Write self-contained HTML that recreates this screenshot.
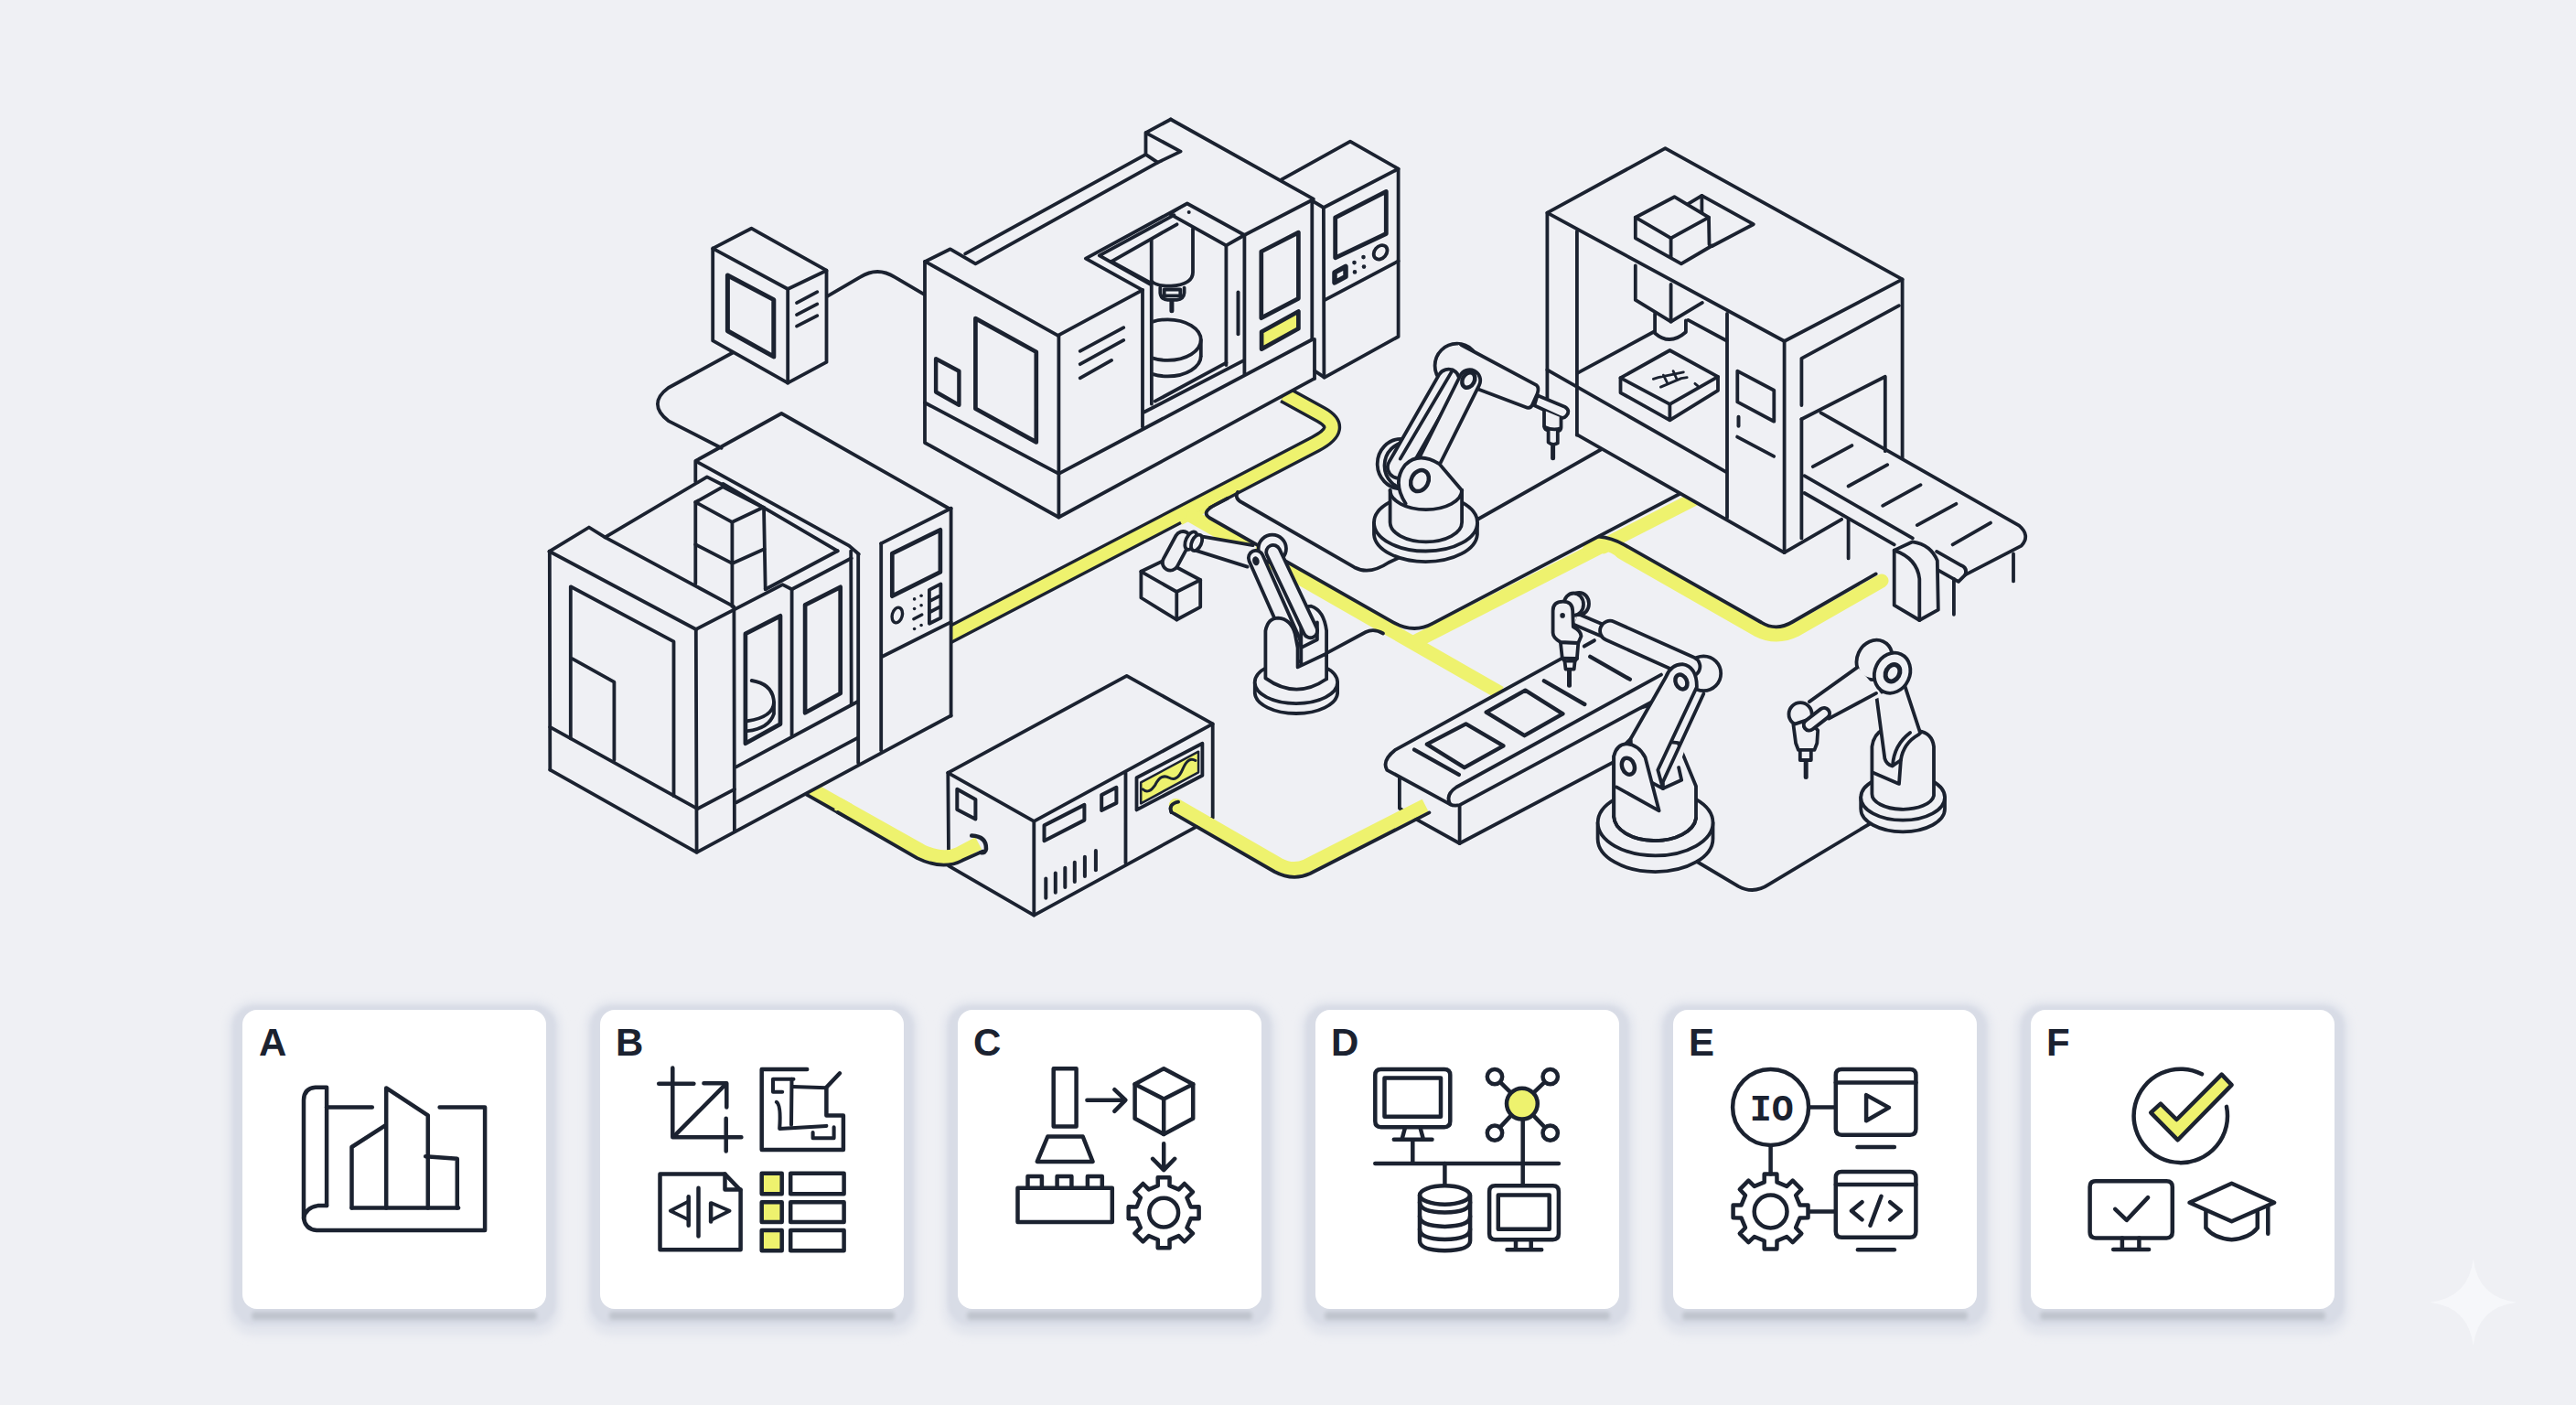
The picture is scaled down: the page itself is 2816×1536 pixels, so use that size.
<!DOCTYPE html>
<html><head><meta charset="utf-8"><title>Factory</title>
<style>
html,body{margin:0;padding:0;background:#eff0f4;}
body{width:2816px;height:1536px;overflow:hidden;font-family:"Liberation Sans",sans-serif;}
svg{display:block;}
svg path,svg circle,svg ellipse,svg rect,svg line{stroke-linecap:round;stroke-linejoin:round;}
.lt{font-family:"Liberation Sans",sans-serif;font-weight:bold;font-size:42px;fill:#1b2230;}
</style></head><body>
<svg width="2816" height="1536" viewBox="0 0 2816 1536">
<defs>
<filter id="sh1" x="-20%" y="-50%" width="140%" height="200%"><feGaussianBlur stdDeviation="2.2"/></filter>
<filter id="sh2" x="-20%" y="-20%" width="140%" height="140%"><feGaussianBlur stdDeviation="5"/></filter>
</defs>
<rect x="0" y="0" width="2816" height="1536" fill="#eff0f4" stroke="none"/>
<rect x="249" y="1094" width="364" height="366" rx="28" fill="#e2e5ed" stroke="none" filter="url(#sh2)"/>
<rect x="254" y="1099" width="354" height="350" rx="24" fill="#d8dce6" stroke="none" filter="url(#sh1)"/>
<rect x="275" y="1434" width="312" height="9" rx="4" fill="#bfc4cd" stroke="none" filter="url(#sh1)"/>
<rect x="265" y="1104" width="332" height="327" rx="16" fill="#ffffff" stroke="none"/>
<text class="lt" x="283" y="1153.8">A</text>
<rect x="640" y="1094" width="364" height="366" rx="28" fill="#e2e5ed" stroke="none" filter="url(#sh2)"/>
<rect x="645" y="1099" width="354" height="350" rx="24" fill="#d8dce6" stroke="none" filter="url(#sh1)"/>
<rect x="666" y="1434" width="312" height="9" rx="4" fill="#bfc4cd" stroke="none" filter="url(#sh1)"/>
<rect x="656" y="1104" width="332" height="327" rx="16" fill="#ffffff" stroke="none"/>
<text class="lt" x="673" y="1153.8">B</text>
<rect x="1031" y="1094" width="364" height="366" rx="28" fill="#e2e5ed" stroke="none" filter="url(#sh2)"/>
<rect x="1036" y="1099" width="354" height="350" rx="24" fill="#d8dce6" stroke="none" filter="url(#sh1)"/>
<rect x="1057" y="1434" width="312" height="9" rx="4" fill="#bfc4cd" stroke="none" filter="url(#sh1)"/>
<rect x="1047" y="1104" width="332" height="327" rx="16" fill="#ffffff" stroke="none"/>
<text class="lt" x="1064" y="1153.8">C</text>
<rect x="1422" y="1094" width="364" height="366" rx="28" fill="#e2e5ed" stroke="none" filter="url(#sh2)"/>
<rect x="1427" y="1099" width="354" height="350" rx="24" fill="#d8dce6" stroke="none" filter="url(#sh1)"/>
<rect x="1448" y="1434" width="312" height="9" rx="4" fill="#bfc4cd" stroke="none" filter="url(#sh1)"/>
<rect x="1438" y="1104" width="332" height="327" rx="16" fill="#ffffff" stroke="none"/>
<text class="lt" x="1455" y="1153.8">D</text>
<rect x="1813" y="1094" width="364" height="366" rx="28" fill="#e2e5ed" stroke="none" filter="url(#sh2)"/>
<rect x="1818" y="1099" width="354" height="350" rx="24" fill="#d8dce6" stroke="none" filter="url(#sh1)"/>
<rect x="1839" y="1434" width="312" height="9" rx="4" fill="#bfc4cd" stroke="none" filter="url(#sh1)"/>
<rect x="1829" y="1104" width="332" height="327" rx="16" fill="#ffffff" stroke="none"/>
<text class="lt" x="1846" y="1153.8">E</text>
<rect x="2204" y="1094" width="364" height="366" rx="28" fill="#e2e5ed" stroke="none" filter="url(#sh2)"/>
<rect x="2209" y="1099" width="354" height="350" rx="24" fill="#d8dce6" stroke="none" filter="url(#sh1)"/>
<rect x="2230" y="1434" width="312" height="9" rx="4" fill="#bfc4cd" stroke="none" filter="url(#sh1)"/>
<rect x="2220" y="1104" width="332" height="327" rx="16" fill="#ffffff" stroke="none"/>
<text class="lt" x="2237" y="1153.8">F</text>
<path d="M357.1,1318.1 L357.1,1188.7 L344.8,1188.7 Q332.0,1189.9 332.0,1202.7 L332.0,1330.9 Q333.3,1343.7 346.1,1345.0 L530.1,1345.0 L530.1,1210.4 L480.6,1210.4" stroke="#1b2230" stroke-width="4.5" fill="none" />
<path d="M357.1,1210.4 L406.8,1210.4" stroke="#1b2230" stroke-width="4.5" fill="none" />
<path d="M357.1,1318.1 L347.4,1318.1 Q333.3,1320.6 332.0,1332.2" stroke="#1b2230" stroke-width="4.5" fill="none" />
<path d="M384.5,1320.6 L384.5,1254.0 L421.2,1230.4" stroke="#1b2230" stroke-width="4.5" fill="none" />
<path d="M422.2,1320.6 L422.2,1189.4 L467.8,1219.4 L467.8,1320.6" stroke="#1b2230" stroke-width="4.5" fill="none" />
<path d="M465.2,1264.2 L499.8,1266.8 L499.8,1320.6" stroke="#1b2230" stroke-width="4.5" fill="none" />
<path d="M384.5,1320.6 L501.1,1320.6" stroke="#1b2230" stroke-width="4.5" fill="none" />
<path d="M735.3,1167.6 L735.3,1243.2 L810.4,1243.2" stroke="#1b2230" stroke-width="4.5" fill="none" />
<path d="M720.2,1184.8 L758.4,1184.8" stroke="#1b2230" stroke-width="4.5" fill="none" />
<path d="M769.4,1184.3 L794.3,1184.3 L794.3,1210.4" stroke="#1b2230" stroke-width="4.5" fill="none" />
<path d="M737.4,1241.7 L793.7,1184.8" stroke="#1b2230" stroke-width="4.5" fill="none" />
<path d="M793.7,1222.7 L793.7,1258.6" stroke="#1b2230" stroke-width="4.5" fill="none" />
<path d="M882.2,1168.9 L832.7,1168.9 L832.7,1257.1 L921.9,1257.1 L921.9,1219.4 L903.4,1219.4 L903.4,1188.7 L918.0,1173.3" stroke="#1b2230" stroke-width="4.5" fill="none" />
<path d="M867.5,1179.7 L845.0,1179.7 L845.0,1193.8 L855.2,1193.8" stroke="#1b2230" stroke-width="4.05" fill="none" />
<path d="M865.5,1179.7 L865.0,1229.7" stroke="#1b2230" stroke-width="4.05" fill="none" />
<path d="M866.8,1188.1 L903.4,1189.2" stroke="#1b2230" stroke-width="4.05" fill="none" />
<path d="M848.8,1204.8 Q854.0,1207.9 852.2,1234.0 L903.4,1230.9" stroke="#1b2230" stroke-width="4.05" fill="none" />
<path d="M888.6,1238.1 L888.6,1244.3 L911.6,1244.3 L911.6,1232.2" stroke="#1b2230" stroke-width="4.05" fill="none" />
<path d="M792.5,1283.5 L721.5,1283.5 L721.5,1366.2 L809.6,1366.2 L809.6,1301.4 Z" stroke="#1b2230" stroke-width="4.5" fill="none" />
<path d="M792.5,1283.5 L792.5,1300.6 L809.6,1300.6" stroke="#1b2230" stroke-width="4.5" fill="none" />
<path d="M763.5,1298.8 L763.5,1351.4" stroke="#1b2230" stroke-width="4.5" fill="none" />
<path d="M752.7,1308.3 L752.7,1339.8" stroke="#1b2230" stroke-width="4.5" fill="none" />
<path d="M752.7,1313.4 L732.8,1323.7 L752.7,1333.4" stroke="#1b2230" stroke-width="3.8249999999999997" fill="none" />
<path d="M777.1,1315.5 L777.1,1335.5" stroke="#1b2230" stroke-width="4.5" fill="none" />
<path d="M778.4,1315.5 L797.6,1323.7 L778.4,1333.4" stroke="#1b2230" stroke-width="3.8249999999999997" fill="none" />
<path d="M832.7,1282.7 L854.7,1282.7 L854.7,1305.2 L832.7,1305.2 Z" stroke="#1b2230" stroke-width="4.5" fill="#eef26e" />
<path d="M864.2,1282.7 L922.6,1282.7 L922.6,1305.2 L864.2,1305.2 Z" stroke="#1b2230" stroke-width="4.5" fill="none" />
<path d="M832.7,1314.2 L854.7,1314.2 L854.7,1336.0 L832.7,1336.0 Z" stroke="#1b2230" stroke-width="4.5" fill="#eef26e" />
<path d="M864.2,1314.2 L922.6,1314.2 L922.6,1336.0 L864.2,1336.0 Z" stroke="#1b2230" stroke-width="4.5" fill="none" />
<path d="M832.7,1345.0 L854.7,1345.0 L854.7,1367.3 L832.7,1367.3 Z" stroke="#1b2230" stroke-width="4.5" fill="#eef26e" />
<path d="M864.2,1345.0 L922.6,1345.0 L922.6,1367.3 L864.2,1367.3 Z" stroke="#1b2230" stroke-width="4.5" fill="none" />
<path d="M1151.7,1168.2 L1176.6,1168.2 L1176.6,1231.4 L1151.7,1231.4 Z" stroke="#1b2230" stroke-width="4.5" fill="none" />
<path d="M1145.3,1242.5 L1183.7,1242.5 L1194.5,1269.9 L1133.8,1269.9 Z" stroke="#1b2230" stroke-width="4.5" fill="none" />
<path d="M1112.5,1298.8 L1215.8,1298.8 L1215.8,1336.0 L1112.5,1336.0 Z" stroke="#1b2230" stroke-width="4.5" fill="none" />
<path d="M1123.5,1298.8 L1123.5,1286.0 L1138.9,1286.0 L1138.9,1298.8" stroke="#1b2230" stroke-width="4.5" fill="none" />
<path d="M1155.6,1298.8 L1155.6,1286.0 L1171.4,1286.0 L1171.4,1298.8" stroke="#1b2230" stroke-width="4.5" fill="none" />
<path d="M1188.9,1298.8 L1188.9,1286.0 L1204.8,1286.0 L1204.8,1298.8" stroke="#1b2230" stroke-width="4.5" fill="none" />
<path d="M1188.4,1202.7 L1229.9,1202.7 M1218.3,1191.2 L1230.4,1202.7 L1218.3,1214.8" stroke="#1b2230" stroke-width="4.5" fill="none" />
<path d="M1272.2,1168.2 L1304.2,1185.3 L1304.2,1222.7 L1272.2,1239.9 L1240.6,1222.7 L1240.6,1185.3 Z" stroke="#1b2230" stroke-width="4.5" fill="none" />
<path d="M1240.6,1185.3 L1272.2,1201.5 L1304.2,1185.3 M1272.2,1201.5 L1272.2,1239.9" stroke="#1b2230" stroke-width="4.5" fill="none" />
<path d="M1272.2,1250.2 L1272.2,1278.3 M1260.1,1266.8 L1272.2,1279.1 L1284.2,1266.8" stroke="#1b2230" stroke-width="4.5" fill="none" />
<path d="M1278.5,1355.3 L1278.6,1364.2 L1265.7,1364.2 L1265.8,1355.3 L1255.8,1351.1 L1249.5,1357.4 L1240.5,1348.4 L1246.8,1342.1 L1242.6,1332.1 L1233.7,1332.2 L1233.7,1319.3 L1242.6,1319.4 L1246.8,1309.3 L1240.5,1303.1 L1249.5,1294.0 L1255.8,1300.4 L1265.8,1296.2 L1265.7,1287.3 L1278.6,1287.3 L1278.5,1296.2 L1288.6,1300.4 L1294.8,1294.0 L1303.9,1303.1 L1297.5,1309.3 L1301.7,1319.4 L1310.6,1319.3 L1310.6,1332.2 L1301.7,1332.1 L1297.5,1342.1 L1303.9,1348.4 L1294.8,1357.4 L1288.6,1351.1 Z" stroke="#1b2230" stroke-width="4.5" fill="none" />
<circle cx="1272.2" cy="1325.7" r="15.9" stroke="#1b2230" stroke-width="4.5" fill="none"/>
<path d="M1509.7,1168.9 L1578.9,1168.9 Q1585.3,1168.9 1585.3,1175.3 L1585.3,1225.8 Q1585.3,1232.2 1578.9,1232.2 L1509.7,1232.2 Q1503.3,1232.2 1503.3,1225.8 L1503.3,1175.3 Q1503.3,1168.9 1509.7,1168.9 Z" stroke="#1b2230" stroke-width="4.5" fill="none" />
<path d="M1513.5,1178.4 L1575.0,1178.4 L1575.0,1220.7 L1513.5,1220.7 Z" stroke="#1b2230" stroke-width="4.5" fill="none" />
<path d="M1535.8,1233.5 L1532.7,1245.0 M1552.7,1233.5 L1555.8,1245.0 M1523.8,1245.8 L1565.5,1245.8" stroke="#1b2230" stroke-width="4.5" fill="none" />
<path d="M1544.3,1246.3 L1544.3,1271.4" stroke="#1b2230" stroke-width="4.5" fill="none" />
<path d="M1503.3,1271.9 L1703.9,1271.9" stroke="#1b2230" stroke-width="4.5" fill="none" />
<path d="M1579.4,1271.9 L1579.4,1295.0" stroke="#1b2230" stroke-width="4.5" fill="none" />
<path d="M1552.0,1306.5 L1552.0,1356.5 Q1552.0,1366.7 1579.4,1367.3 Q1607.1,1366.7 1607.1,1356.5 L1607.1,1306.5" stroke="#1b2230" stroke-width="4.5" fill="none" />
<ellipse cx="1579.4" cy="1306.5" rx="27.4" ry="10.2" stroke="#1b2230" stroke-width="4.5" fill="none"/>
<path d="M1552.0,1314.2 Q1552.0,1325.0 1579.4,1325.5 Q1607.1,1325.0 1607.1,1314.2" stroke="#1b2230" stroke-width="4.5" fill="none" />
<path d="M1552.0,1329.6 Q1552.0,1340.4 1579.4,1340.9 Q1607.1,1340.4 1607.1,1329.6" stroke="#1b2230" stroke-width="4.5" fill="none" />
<path d="M1552.0,1343.7 Q1552.0,1354.4 1579.4,1355.0 Q1607.1,1354.4 1607.1,1343.7" stroke="#1b2230" stroke-width="4.5" fill="none" />
<path d="M1663.9,1206.6 L1634.0,1177.1" stroke="#1b2230" stroke-width="4.5" fill="none" />
<path d="M1663.9,1206.6 L1694.7,1177.1" stroke="#1b2230" stroke-width="4.5" fill="none" />
<path d="M1663.9,1206.6 L1634.0,1238.6" stroke="#1b2230" stroke-width="4.5" fill="none" />
<path d="M1663.9,1206.6 L1694.7,1238.6" stroke="#1b2230" stroke-width="4.5" fill="none" />
<path d="M1664.7,1223.2 L1664.7,1295.0" stroke="#1b2230" stroke-width="4.5" fill="none" />
<circle cx="1634.0" cy="1177.1" r="8.2" stroke="#1b2230" stroke-width="4.5" fill="#fff"/>
<circle cx="1694.7" cy="1177.1" r="8.2" stroke="#1b2230" stroke-width="4.5" fill="#fff"/>
<circle cx="1634.0" cy="1238.6" r="8.2" stroke="#1b2230" stroke-width="4.5" fill="#fff"/>
<circle cx="1694.7" cy="1238.6" r="8.2" stroke="#1b2230" stroke-width="4.5" fill="#fff"/>
<circle cx="1663.9" cy="1206.6" r="16.9" stroke="#1b2230" stroke-width="4.5" fill="#eef26e"/>
<path d="M1634.5,1296.3 L1697.5,1296.3 Q1703.9,1296.3 1703.9,1302.7 L1703.9,1348.8 Q1703.9,1355.2 1697.5,1355.2 L1634.5,1355.2 Q1628.1,1355.2 1628.1,1348.8 L1628.1,1302.7 Q1628.1,1296.3 1634.5,1296.3 Z" stroke="#1b2230" stroke-width="4.5" fill="none" />
<path d="M1637.8,1306.5 L1693.7,1306.5 L1693.7,1343.7 L1637.8,1343.7 Z" stroke="#1b2230" stroke-width="4.5" fill="none" />
<path d="M1657.0,1355.2 L1657.0,1365.5 M1673.7,1355.2 L1673.7,1365.5 M1647.5,1366.2 L1685.2,1366.2" stroke="#1b2230" stroke-width="4.5" fill="none" />
<circle cx="1935.6" cy="1210.4" r="41.5" stroke="#1b2230" stroke-width="4.5" fill="none"/>
<text x="1936.8" y="1225.3" text-anchor="middle" style="font-family:'Liberation Mono',monospace;font-weight:bold;font-size:40px;fill:#1b2230">IO</text>
<path d="M1977.8,1210.4 L2006.0,1210.4" stroke="#1b2230" stroke-width="4.5" fill="none" />
<path d="M2013.2,1168.9 L2088.0,1168.9 Q2094.4,1168.9 2094.4,1175.3 L2094.4,1234.3 Q2094.4,1240.7 2088.0,1240.7 L2013.2,1240.7 Q2006.8,1240.7 2006.8,1234.3 L2006.8,1175.3 Q2006.8,1168.9 2013.2,1168.9 Z" stroke="#1b2230" stroke-width="4.5" fill="none" />
<path d="M2006.8,1183.5 L2094.4,1183.5" stroke="#1b2230" stroke-width="4.5" fill="none" />
<path d="M2040.1,1197.1 L2040.1,1225.3 L2065.0,1210.9 Z" stroke="#1b2230" stroke-width="4.5" fill="none" />
<path d="M2030.4,1254.0 L2070.9,1254.0" stroke="#1b2230" stroke-width="4.5" fill="none" />
<path d="M1935.6,1252.7 L1935.6,1283.5" stroke="#1b2230" stroke-width="4.5" fill="none" />
<path d="M1942.5,1356.5 L1942.4,1365.4 L1928.7,1365.4 L1928.7,1356.5 L1917.8,1352.0 L1911.4,1358.2 L1901.8,1348.6 L1908.0,1342.2 L1903.5,1331.4 L1894.6,1331.3 L1894.6,1317.6 L1903.5,1317.6 L1908.0,1306.7 L1901.8,1300.3 L1911.4,1290.7 L1917.8,1296.9 L1928.7,1292.4 L1928.7,1283.5 L1942.4,1283.5 L1942.5,1292.4 L1953.3,1296.9 L1959.7,1290.7 L1969.3,1300.3 L1963.1,1306.7 L1967.6,1317.6 L1976.5,1317.6 L1976.5,1331.3 L1967.6,1331.4 L1963.1,1342.2 L1969.3,1348.6 L1959.7,1358.2 L1953.3,1352.0 Z" stroke="#1b2230" stroke-width="4.5" fill="none" />
<circle cx="1935.6" cy="1324.5" r="17.9" stroke="#1b2230" stroke-width="4.5" fill="none"/>
<path d="M1977.8,1324.5 L2006.0,1324.5" stroke="#1b2230" stroke-width="4.5" fill="none" />
<path d="M2013.2,1280.9 L2088.0,1280.9 Q2094.4,1280.9 2094.4,1287.3 L2094.4,1346.2 Q2094.4,1352.7 2088.0,1352.7 L2013.2,1352.7 Q2006.8,1352.7 2006.8,1346.2 L2006.8,1287.3 Q2006.8,1280.9 2013.2,1280.9 Z" stroke="#1b2230" stroke-width="4.5" fill="none" />
<path d="M2006.8,1295.0 L2094.4,1295.0" stroke="#1b2230" stroke-width="4.5" fill="none" />
<path d="M2035.5,1314.2 L2024.0,1323.7 L2035.5,1333.4 M2056.5,1307.8 L2044.5,1339.8 M2066.2,1314.2 L2077.8,1323.7 L2066.2,1333.4" stroke="#1b2230" stroke-width="4.5" fill="none" />
<path d="M2030.9,1366.2 L2070.9,1366.2" stroke="#1b2230" stroke-width="4.5" fill="none" />
<path d="M2434.0,1209.9 A51.2,51.2 0 1 1 2407.0,1174.3" stroke="#1b2230" stroke-width="4.5" fill="none"/>
<path d="M2351.2,1216.3 L2361.9,1206.6 L2379.4,1224.0 L2428.6,1174.6 L2439.6,1186.1 L2380.7,1246.3 Z" stroke="#1b2230" stroke-width="4.5" fill="#eef26e" />
<path d="M2291.0,1291.2 L2368.4,1291.2 Q2374.8,1291.2 2374.8,1297.6 L2374.8,1347.0 Q2374.8,1353.4 2368.4,1353.4 L2291.0,1353.4 Q2284.6,1353.4 2284.6,1347.0 L2284.6,1297.6 Q2284.6,1291.2 2291.0,1291.2 Z" stroke="#1b2230" stroke-width="4.5" fill="none" />
<path d="M2312.2,1321.9 L2324.8,1333.9 L2348.1,1309.1" stroke="#1b2230" stroke-width="4.5" fill="none" />
<path d="M2319.9,1353.4 L2319.9,1364.7 M2338.4,1353.4 L2338.4,1364.7 M2310.2,1366.0 L2349.1,1366.0" stroke="#1b2230" stroke-width="4.5" fill="none" />
<path d="M2393.5,1314.7 L2439.6,1293.7 L2486.2,1314.7 L2439.6,1335.2 Z" stroke="#1b2230" stroke-width="4.5" fill="none" />
<path d="M2411.4,1324.5 L2411.4,1342.4 Q2420.4,1353.9 2439.6,1355.2 Q2458.8,1353.9 2467.8,1342.4 L2467.8,1324.5" stroke="#1b2230" stroke-width="4.5" fill="none" />
<path d="M2479.3,1318.1 L2479.3,1348.8" stroke="#1b2230" stroke-width="4.5" fill="none" />
<path d="M1030.0,698.2 L1438.0,485.4 Q1471.0,468.2 1444.0,453.3 L1404.0,431.3" stroke="#1b2230" stroke-width="20" fill="none" style="stroke-linecap:butt"/>
<path d="M1030.0,698.2 L1438.0,485.4 Q1471.0,468.2 1444.0,453.3 L1404.0,431.3" stroke="#eef26e" stroke-width="13.2" fill="none" style="stroke-linecap:butt"/>
<path d="M1298.0,561.5 L1640.0,757.5" stroke="#eef26e" stroke-width="15" fill="none" style="stroke-linecap:butt"/>
<path d="M1544.0,703.0 L1853.0,545.0" stroke="#eef26e" stroke-width="15" fill="none" style="stroke-linecap:butt"/>
<circle cx="1753.1" cy="598.4" r="7.0" stroke="#1b2230" stroke-width="0" fill="#eef26e"/>
<path d="M1737.6,600.9 L1748.8,595.9 Q1761.4,592.8 1773.1,604.1 L1920.9,688.5 Q1941.7,699.3 1963.5,688.5 L2057.0,634.9" stroke="#eef26e" stroke-width="15" fill="none" />
<path d="M883.1,860.4 L928.2,885.7" stroke="#eef26e" stroke-width="15" fill="none" style="stroke-linecap:butt"/>
<path d="M1291.0,571.5 L1322.0,555.5" stroke="#eef26e" stroke-width="5" fill="none" style="stroke-linecap:butt"/>
<path d="M1342.0,544.8 L1328.0,552.1 Q1313.0,560.0 1322.0,566.0 L1523.0,680.4 Q1545.7,693.0 1566.0,681.6 L1836.0,540.0" stroke="#1b2230" stroke-width="3.8" fill="none" />
<path d="M1747.6,586.6 Q1762.0,588.0 1775.2,595.3 L1925.5,680.5 Q1941.7,690.5 1959.3,680.0 L2050.7,627.4" stroke="#1b2230" stroke-width="3.8" fill="none" />
<path d="M1451.0,713.6 L1493.0,691.0 Q1502.0,686.5 1512.0,692.5" stroke="#1b2230" stroke-width="3.8" fill="none" />
<path d="M1353.0,538.0 Q1349.0,545.0 1358.0,549.5 L1480.5,620.2 Q1497.0,629.0 1518.0,615.0 L1535.0,607.0" stroke="#1b2230" stroke-width="3.8" fill="none" />
<path d="M1600.0,576.5 L1750.0,491.5" stroke="#1b2230" stroke-width="3.8" fill="none" />
<path d="M878.1,866.7 L928.2,895.0" stroke="#1b2230" stroke-width="3.8" fill="none" />
<path d="M1850.0,939.0 L1900.2,968.8 Q1917.0,978.0 1933.6,966.9 L2045.0,900.0" stroke="#1b2230" stroke-width="3.8" fill="none" />
<path d="M600.5,602.8 L643.9,576.5 L760.3,515.2 L760.3,503.9 L854.3,452.0 L1038.4,556.5 L1039.6,782.3 L761.6,931.8 L601.3,841.7 Z" stroke="none" stroke-width="0" fill="#eff0f4" />
<path d="M1011.0,286.0 L1038.9,272.3 L1252.5,168.9 L1252.5,145.1 L1279.8,130.5 L1434.3,218.8 L1436.8,413.9 L1157.4,565.5 L1011.0,484.0 Z" stroke="none" stroke-width="0" fill="#eff0f4" />
<path d="M1691.5,319.8 L1691.5,456.6 L1950.5,604.1 L2013.1,567.8 L2079.5,500.2 L2079.5,319.8 Z" stroke="none" stroke-width="0" fill="#eff0f4" />
<path d="M1279.8,130.5 L1252.5,145.1 L1252.5,168.9 L1265.6,177.6 L1290.6,165.6 L1252.5,145.1" stroke="#1b2230" stroke-width="3.8" fill="none" />
<path d="M1252.5,168.9 L1055.2,277.3" stroke="#1b2230" stroke-width="3.8" fill="none" />
<path d="M1265.6,177.6 L1066.4,288.4 L1038.9,272.3 L1011.3,285.9" stroke="#1b2230" stroke-width="3.8" fill="none" />
<path d="M1279.8,130.5 L1435.9,217.7" stroke="#1b2230" stroke-width="3.8" fill="none" />
<path d="M1011.3,285.9 L1156.6,366.8" stroke="#1b2230" stroke-width="3.8" fill="none" />
<path d="M1011.0,286.0 L1011.0,484.0 L1157.4,565.5 L1436.8,413.9" stroke="#1b2230" stroke-width="3.8" fill="none" />
<path d="M1157.4,366.6 L1157.4,565.5" stroke="#1b2230" stroke-width="3.8" fill="none" />
<path d="M1011.0,440.3 L1157.4,517.9 L1434.3,371.3" stroke="#1b2230" stroke-width="3.8" fill="none" />
<path d="M1023.1,392.2 L1048.4,405.7 L1048.4,442.8 L1023.1,428.5 Z" stroke="#1b2230" stroke-width="4.4" fill="none" />
<path d="M1066.4,348.1 L1132.8,384.7 L1132.8,483.4 L1066.4,446.8 Z" stroke="#1b2230" stroke-width="4.7" fill="none" />
<path d="M1156.9,366.6 L1248.9,317.1" stroke="#1b2230" stroke-width="3.8" fill="none" />
<path d="M1180.7,383.8 L1228.3,358.2 M1180.7,398.2 L1228.3,371.9 M1180.7,413.3 L1215.1,393.9" stroke="#1b2230" stroke-width="3.8" fill="none" />
<path d="M1248.9,317.1 L1186.9,282.7 L1297.8,222.5 L1360.4,257.0 L1434.3,218.8" stroke="#1b2230" stroke-width="3.8" fill="none" />
<path d="M1257.1,310.7 L1201.8,279.4 L1283.4,235.2" stroke="#1b2230" stroke-width="3.8" fill="none" />
<path d="M1215.1,285.8 L1286.5,245.3" stroke="#1b2230" stroke-width="3.8" fill="none" />
<path d="M1215.1,285.8 L1257.1,309.0" stroke="#1b2230" stroke-width="3.8" fill="none" />
<path d="M1279.6,234.4 L1340.4,268.3 L1360.4,257.0" stroke="#1b2230" stroke-width="3.8" fill="none" />
<path d="M1279.6,234.4 L1297.8,222.5" stroke="#1b2230" stroke-width="2" fill="none" />
<circle cx="1299.7" cy="231.9" r="2.0" stroke="#1b2230" stroke-width="0" fill="#1b2230"/>
<path d="M1249.0,317.0 L1249.0,466.5" stroke="#1b2230" stroke-width="3.8" fill="none" />
<path d="M1258.7,262.0 L1258.9,441.7" stroke="#1b2230" stroke-width="3.8" fill="none" />
<path d="M1340.4,268.3 L1340.4,399.1" stroke="#1b2230" stroke-width="3.8" fill="none" />
<path d="M1360.4,257.0 L1360.4,408.5" stroke="#1b2230" stroke-width="3.8" fill="none" />
<path d="M1353.5,319.6 L1353.5,365.3" stroke="#1b2230" stroke-width="4" fill="none" />
<path d="M1434.3,218.8 L1434.3,371.0 M1437.0,371.0 L1437.0,413.9" stroke="#1b2230" stroke-width="3.8" fill="none" />
<path d="M1304.0,250.1 L1304.0,297.7 Q1304.0,310.8 1280.2,312.7 Q1264.0,312.7 1259.2,307.7" stroke="#1b2230" stroke-width="3.8" fill="none" />
<path d="M1268.3,314.6 L1268.3,320.2 Q1269.0,327.1 1276.5,327.8 L1286.5,327.8 Q1294.0,327.1 1294.6,320.2 L1294.6,314.6" stroke="#1b2230" stroke-width="3.8" fill="none" />
<path d="M1272.7,316.5 L1272.7,323.4 L1290.3,323.4 L1290.3,316.5 Z" stroke="#1b2230" stroke-width="3.8" fill="none" />
<path d="M1280.9,329.6 L1280.9,339.7" stroke="#1b2230" stroke-width="5" fill="none" />
<clipPath id="cpTab"><rect x="1260.2" y="300" width="120" height="200"/></clipPath>
<g clip-path="url(#cpTab)">
<ellipse cx="1276.5" cy="371.6" rx="36.3" ry="22.3" stroke="#1b2230" stroke-width="3.8" fill="none"/>
<path d="M1312.8,371.6 L1312.8,389.1" stroke="#1b2230" stroke-width="3.8" fill="none" />
<clipPath id="cpTab2"><rect x="1200" y="389.1" width="200" height="100"/></clipPath>
<g clip-path="url(#cpTab2)">
<ellipse cx="1276.5" cy="389.1" rx="36.3" ry="22.3" stroke="#1b2230" stroke-width="3.8" fill="none"/>
</g></g>
<path d="M1262.7,438.7 L1340.4,396.6" stroke="#1b2230" stroke-width="3.8" fill="none" />
<path d="M1250.8,450.5 L1359.1,394.4" stroke="#1b2230" stroke-width="3.8" fill="none" />
<path d="M1378.8,275.0 L1419.4,254.1 L1419.4,326.3 L1378.8,347.7 Z" stroke="#1b2230" stroke-width="4.7" fill="none" />
<path d="M1379.1,362.8 L1419.4,340.5 L1419.4,359.3 L1379.1,381.6 Z" stroke="#1b2230" stroke-width="4.7" fill="#eef26e" />
<path d="M1400.8,196.4 L1476.0,154.6 L1528.6,184.6 L1446.9,227.0 L1436.4,220.7" stroke="#1b2230" stroke-width="3.8" fill="none" />
<path d="M1528.6,184.6 L1528.6,368.0 L1447.9,412.6 L1437.4,405.6" stroke="#1b2230" stroke-width="3.8" fill="none" />
<path d="M1446.9,227.0 L1447.4,412.6" stroke="#1b2230" stroke-width="3.8" fill="none" />
<path d="M1448.4,327.9 L1528.6,285.4" stroke="#1b2230" stroke-width="3.8" fill="none" />
<path d="M1459.7,237.8 L1515.3,209.4 L1515.3,255.5 L1459.7,281.8 Z" stroke="#1b2230" stroke-width="4.8" fill="none" />
<path d="M1459.0,297.9 L1471.0,291.4 L1471.0,302.4 L1459.0,308.9 Z" stroke="#1b2230" stroke-width="5.5" fill="none" />
<circle cx="1480.5" cy="287.1" r="2.3" stroke="#1b2230" stroke-width="0" fill="#1b2230"/>
<circle cx="1490.5" cy="281.1" r="2.3" stroke="#1b2230" stroke-width="0" fill="#1b2230"/>
<circle cx="1481.0" cy="297.4" r="2.3" stroke="#1b2230" stroke-width="0" fill="#1b2230"/>
<circle cx="1491.0" cy="291.6" r="2.3" stroke="#1b2230" stroke-width="0" fill="#1b2230"/>
<ellipse cx="1509.1" cy="275.8" rx="8.5" ry="6.5" stroke="#1b2230" stroke-width="3.8" fill="none" transform="rotate(-50 1509.1 275.8)"/>
<path d="M904.4,323.9 L940.4,302.9 Q959.2,291.0 978.0,302.9 L1009.9,321.7" stroke="#1b2230" stroke-width="3.8" fill="none" />
<path d="M801.1,385.5 L730.6,424.0 Q707.2,441.3 730.6,460.1 L788.6,489.8" stroke="#1b2230" stroke-width="3.8" fill="none" />
<path d="M821.4,249.7 L779.2,271.6 L779.2,372.4 L861.2,418.7 L903.5,395.9 L903.5,295.7 Z" stroke="#1b2230" stroke-width="3.8" fill="#eff0f4" />
<path d="M779.2,271.6 L861.2,316.0 L903.5,295.7 M861.2,316.0 L861.2,418.7" stroke="#1b2230" stroke-width="3.8" fill="none" />
<path d="M795.4,301.0 L845.8,327.6 L845.8,389.9 L795.4,361.7 Z" stroke="#1b2230" stroke-width="5" fill="none" />
<path d="M870.9,331.1 L893.4,319.2 M870.9,344.2 L893.4,332.3 M870.9,356.7 L893.4,345.1" stroke="#1b2230" stroke-width="3.6" fill="none" />
<path d="M760.3,526.4 L760.3,503.9 L854.3,452.0 L1038.4,556.5" stroke="#1b2230" stroke-width="3.8" fill="none" />
<path d="M763.3,505.6 L928.2,596.6 L938.7,605.8" stroke="#1b2230" stroke-width="3.8" fill="none" />
<path d="M790.4,528.9 L915.7,602.3" stroke="#1b2230" stroke-width="3.8" fill="none" />
<path d="M600.5,602.8 L643.9,576.5 L661.4,587.3 L772.9,521.4 L790.4,530.2" stroke="#1b2230" stroke-width="3.8" fill="none" />
<path d="M600.5,602.8 L760.8,688.0" stroke="#1b2230" stroke-width="3.8" fill="none" />
<path d="M661.4,587.3 L801.7,662.9" stroke="#1b2230" stroke-width="3.8" fill="none" />
<path d="M760.3,549.0 L790.4,532.2 L834.2,554.7 L800.4,570.8 Z" stroke="#1b2230" stroke-width="3.8" fill="#eff0f4" />
<path d="M760.3,549.0 L760.3,637.9 M800.4,570.8 L800.4,662.9 M835.0,554.7 L836.7,644.2" stroke="#1b2230" stroke-width="3.8" fill="none" />
<path d="M760.3,595.3 L800.4,615.9 L835.5,600.3" stroke="#1b2230" stroke-width="3.8" fill="none" />
<path d="M760.8,688.0 L855.5,639.1 L865.6,644.2 L930.7,610.3" stroke="#1b2230" stroke-width="3.8" fill="none" />
<path d="M836.7,644.2 L915.7,602.3" stroke="#1b2230" stroke-width="3.8" fill="none" />
<path d="M600.8,602.8 L601.3,841.6" stroke="#1b2230" stroke-width="3.8" fill="none" />
<path d="M760.8,688.0 L761.6,931.7" stroke="#1b2230" stroke-width="3.8" fill="none" />
<path d="M802.4,663.7 L802.9,909.2" stroke="#1b2230" stroke-width="3.8" fill="none" />
<path d="M865.6,644.2 L865.6,804.0" stroke="#1b2230" stroke-width="3.8" fill="none" />
<path d="M930.2,602.3 L930.7,770.2" stroke="#1b2230" stroke-width="3.8" fill="none" />
<path d="M938.2,605.8 L938.2,834.0" stroke="#1b2230" stroke-width="3.8" fill="none" />
<path d="M963.2,594.1 L963.2,820.3" stroke="#1b2230" stroke-width="3.8" fill="none" />
<path d="M1039.6,555.7 L1039.6,782.7" stroke="#1b2230" stroke-width="3.8" fill="none" />
<path d="M963.2,594.1 L1039.6,555.7" stroke="#1b2230" stroke-width="3.8" fill="none" />
<path d="M601.3,841.7 L761.6,931.8 L1039.6,782.3" stroke="#1b2230" stroke-width="3.8" fill="none" />
<path d="M601.3,794.8 L762.3,884.2 L802.9,862.9" stroke="#1b2230" stroke-width="3.8" fill="none" />
<path d="M623.8,807.3 L623.8,641.3 L736.5,701.4 L736.5,870.0" stroke="#1b2230" stroke-width="3.8" fill="none" />
<path d="M625.6,720.2 L671.4,745.7 L671.4,830.9" stroke="#1b2230" stroke-width="3.8" fill="none" />
<path d="M804.9,838.4 L937.7,767.0 M804.9,877.2 L937.7,806.6" stroke="#1b2230" stroke-width="3.8" fill="none" />
<path d="M814.9,692.9 L853.0,673.3 L853.0,791.6 L814.9,812.8 Z" stroke="#1b2230" stroke-width="4.7" fill="none" />
<path d="M880.1,661.3 L918.7,641.8 L918.7,758.0 L880.1,779.3 Z" stroke="#1b2230" stroke-width="4.7" fill="none" />
<clipPath id="cpD3"><path d="M817.0,695.6 L851.0,678.1 L851.0,789.3 L817.0,809.3 Z"/></clipPath>
<g clip-path="url(#cpD3)">
<path d="M821.7,744.0 Q845.0,747.7 846.0,767.8 Q845.5,784.0 816.7,788.3" stroke="#1b2230" stroke-width="3.8" fill="none" />
<path d="M846.0,767.8 L846.0,780.3 Q840.5,796.6 816.7,799.1" stroke="#1b2230" stroke-width="3.8" fill="none" />
</g>
<path d="M964.5,717.7 L1039.6,680.1" stroke="#1b2230" stroke-width="3.8" fill="none" />
<path d="M975.3,605.1 L1027.9,579.3 L1027.9,625.4 L975.3,651.7 Z" stroke="#1b2230" stroke-width="4.7" fill="none" />
<ellipse cx="980.8" cy="672.5" rx="5.5" ry="8.5" stroke="#1b2230" stroke-width="3.4" fill="none" transform="rotate(15 980.8 672.5)"/>
<circle cx="999.6" cy="654.9" r="1.8" stroke="#1b2230" stroke-width="0" fill="#1b2230"/>
<circle cx="1007.1" cy="651.2" r="1.8" stroke="#1b2230" stroke-width="0" fill="#1b2230"/>
<circle cx="999.6" cy="665.5" r="1.8" stroke="#1b2230" stroke-width="0" fill="#1b2230"/>
<circle cx="1007.1" cy="661.7" r="1.8" stroke="#1b2230" stroke-width="0" fill="#1b2230"/>
<circle cx="999.6" cy="687.5" r="1.8" stroke="#1b2230" stroke-width="0" fill="#1b2230"/>
<circle cx="1007.1" cy="683.5" r="1.8" stroke="#1b2230" stroke-width="0" fill="#1b2230"/>
<path d="M998.8,676.7 L1007.8,672.0" stroke="#1b2230" stroke-width="3.4" fill="none" />
<path d="M1015.9,644.9 L1028.4,638.4 L1028.4,675.5 L1015.9,681.7 Z M1015.9,657.4 L1028.4,650.9 M1015.9,669.5 L1028.4,662.9" stroke="#1b2230" stroke-width="3.8" fill="none" />
<path d="M1691.4,232.7 L1820.4,162.1 L2079.6,305.4 L1950.6,373.0 Z" stroke="#1b2230" stroke-width="3.8" fill="none" />
<path d="M1691.4,232.7 L1691.4,456.9" stroke="#1b2230" stroke-width="3.8" fill="none" />
<path d="M1723.9,252.7 L1723.9,475.7" stroke="#1b2230" stroke-width="3.8" fill="none" />
<path d="M1888.0,342.9 L1888.0,565.9" stroke="#1b2230" stroke-width="3.8" fill="none" />
<path d="M1950.6,373.0 L1950.6,604.2" stroke="#1b2230" stroke-width="3.8" fill="none" />
<path d="M2079.6,305.4 L2079.6,500.7" stroke="#1b2230" stroke-width="3.8" fill="none" />
<path d="M1723.9,408.1 L1808.3,362.5" stroke="#1b2230" stroke-width="3.8" fill="none" />
<path d="M1845.4,349.9 L1887.5,372.5" stroke="#1b2230" stroke-width="3.8" fill="none" />
<path d="M1691.4,404.3 L1886.7,515.8" stroke="#1b2230" stroke-width="3.8" fill="none" />
<path d="M1842.9,224.4 L1860.4,213.9 L1916.8,245.2 L1871.7,269.0" stroke="#1b2230" stroke-width="3.8" fill="none" />
<path d="M1860.4,213.9 L1860.4,232.7" stroke="#1b2230" stroke-width="3.8" fill="none" />
<path d="M1787.8,237.7 L1830.4,215.2 L1868.0,237.7 L1826.6,260.3 Z" stroke="#1b2230" stroke-width="3.8" fill="#eff0f4" />
<path d="M1787.8,237.7 L1787.8,260.3 L1837.9,288.3 L1871.7,268.5 M1826.6,260.3 L1826.6,281.6 M1868.0,237.7 L1868.5,267.3" stroke="#1b2230" stroke-width="3.8" fill="none" />
<path d="M1787.8,290.3 L1787.8,327.9 L1826.6,351.7 L1860.9,330.9" stroke="#1b2230" stroke-width="3.8" fill="none" />
<path d="M1826.6,310.9 L1826.6,351.7" stroke="#1b2230" stroke-width="3.8" fill="none" />
<path d="M1809.1,342.9 L1809.1,364.2 Q1825.4,378.5 1842.9,363.0 L1842.9,350.4" stroke="#1b2230" stroke-width="3.8" fill="none" />
<path d="M1771.5,413.1 L1825.4,383.0 L1878.0,411.8 L1825.4,441.9 Z" stroke="#1b2230" stroke-width="3.8" fill="none" />
<path d="M1771.5,413.1 L1771.5,429.3 L1825.4,459.4 L1878.0,426.8 L1878.0,411.8 M1825.4,441.9 L1825.4,459.4" stroke="#1b2230" stroke-width="3.8" fill="none" />
<path d="M1812.8,412.6 L1840.4,406.8 M1815.4,423.1 L1837.9,413.6 M1818.4,410.1 L1822.4,418.1 M1829.1,405.6 L1832.9,414.3 M1807.3,414.3 L1812.8,412.6 M1837.9,413.6 L1844.2,412.6 M1852.9,419.3 L1855.9,421.8" stroke="#1b2230" stroke-width="2.8" fill="none" />
<path d="M1899.3,405.6 L1939.3,426.8 L1939.3,460.7 L1899.3,439.4 Z" stroke="#1b2230" stroke-width="3.8" fill="none" />
<path d="M1900.5,455.7 L1900.5,465.7" stroke="#1b2230" stroke-width="4" fill="none" />
<path d="M1899.1,477.6 L1939.2,498.9" stroke="#1b2230" stroke-width="3.8" fill="none" />
<path d="M2075.9,334.2 L1969.4,391.8 L1969.4,443.1" stroke="#1b2230" stroke-width="3.8" fill="none" />
<path d="M1969.4,458.2 L2060.8,411.8 L2060.8,493.2" stroke="#1b2230" stroke-width="3.8" fill="none" />
<path d="M1969.4,458.2 L1969.4,588.4" stroke="#1b2230" stroke-width="3.8" fill="none" />
<path d="M1723.8,475.1 L1950.5,604.1 L2013.1,567.8" stroke="#1b2230" stroke-width="3.8" fill="none" />
<path d="M1990.6,451.3 L2207.3,574.6 Q2219.8,585.3 2209.8,596.6 L2148.4,628.4" stroke="#1b2230" stroke-width="3.8" fill="none" />
<path d="M1972.5,520.2 L2090.8,588.3 M2117.1,602.9 L2143.4,617.9 Q2150.9,620.4 2148.4,628.4" stroke="#1b2230" stroke-width="3.8" fill="none" />
<path d="M1972.5,539.0 L2070.7,595.4" stroke="#1b2230" stroke-width="3.8" fill="none" />
<path d="M2148.4,628.4 L2140.9,635.9 L2118.8,623.4" stroke="#1b2230" stroke-width="3.8" fill="none" />
<path d="M1981.8,510.2 L2024.4,487.1 M2020.6,531.5 L2063.2,508.2 M2058.2,552.8 L2099.5,530.2 M2095.8,574.1 L2138.4,550.8 M2134.6,595.4 L2176.0,571.6" stroke="#1b2230" stroke-width="3.8" fill="none" />
<path d="M2070.7,601.6 L2090.8,592.3 Q2110.8,595.4 2117.8,612.9 L2118.8,666.7 L2098.3,678.0 L2070.7,661.7 Z" stroke="#1b2230" stroke-width="3.8" fill="#eff0f4" />
<path d="M2070.7,601.6 Q2095.8,610.4 2098.3,632.9 L2098.3,678.0" stroke="#1b2230" stroke-width="3.8" fill="none" />
<path d="M2020.6,567.8 L2020.6,610.4 M2135.9,632.9 L2135.9,671.8 M2201.0,605.4 L2201.0,635.4" stroke="#1b2230" stroke-width="3.8" fill="none" />
<path d="M1231.7,738.8 L1036.3,844.8 L1037.1,946.7 L1130.3,1000.6 L1325.7,894.1 L1325.7,791.4 Z" stroke="#1b2230" stroke-width="3.8" fill="#eff0f4" />
<path d="M1036.3,844.8 L1130.3,897.9 L1325.7,791.4 M1130.3,897.9 L1130.3,1000.6 M1230.5,844.0 L1230.5,943.5" stroke="#1b2230" stroke-width="3.8" fill="none" />
<path d="M1046.3,862.8 L1066.4,874.1 L1066.4,895.4 L1046.3,884.9 Z" stroke="#1b2230" stroke-width="4" fill="none" />
<path d="M1141.5,902.4 L1185.4,879.9 L1185.4,896.6 L1141.5,919.2 Z" stroke="#1b2230" stroke-width="4" fill="none" />
<path d="M1204.2,869.1 L1220.4,860.8 L1220.4,877.9 L1204.2,885.9 Z" stroke="#1b2230" stroke-width="4" fill="none" />
<path d="M1143.3,960.5 L1143.3,981.8" stroke="#1b2230" stroke-width="4" fill="none" />
<path d="M1153.8,954.5 L1153.8,975.8" stroke="#1b2230" stroke-width="4" fill="none" />
<path d="M1164.3,948.7 L1164.3,970.0" stroke="#1b2230" stroke-width="4" fill="none" />
<path d="M1174.8,942.7 L1174.8,964.0" stroke="#1b2230" stroke-width="4" fill="none" />
<path d="M1185.9,936.7 L1185.9,958.0" stroke="#1b2230" stroke-width="4" fill="none" />
<path d="M1197.9,930.0 L1197.9,951.3" stroke="#1b2230" stroke-width="4" fill="none" />
<path d="M1242.5,850.3 L1314.4,812.7 L1314.4,847.8 L1242.5,885.4 Z" stroke="#1b2230" stroke-width="3.8" fill="none" />
<path d="M1247.2,855.3 L1310.1,821.7 L1310.1,844.3 L1247.2,878.4 Z" stroke="#1b2230" stroke-width="2.5" fill="#eef26e" />
<path d="M1249.2,862.8 Q1255.5,869.1 1263.0,857.8 Q1269.3,845.3 1278.1,850.3 Q1286.8,855.3 1293.1,840.3 Q1299.3,826.5 1306.9,831.5" stroke="#1b2230" stroke-width="3" fill="none" />
<path d="M1529.9,850.3 L1529.9,883.6 L1549.5,896.4 L1595.6,922.0 L1812.6,807.3 L1812.6,768.3 Z" stroke="#1b2230" stroke-width="3.8" fill="#eff0f4" />
<path d="M1595.6,881.0 L1595.6,922.0" stroke="#1b2230" stroke-width="3.8" fill="none" />
<path d="M1722.0,711.6 L1525.6,819.6 Q1510.2,831.5 1516.2,841.8 L1585.4,879.3 Q1588.8,881.4 1595.6,880.2 L1816.0,761.8 L1816.0,737.6 Z" stroke="none" stroke-width="0" fill="#eff0f4" />
<path d="M1713.5,716.4 L1525.6,819.6 Q1510.2,831.5 1516.2,841.8 L1585.4,879.3 Q1588.8,881.4 1595.6,880.2 L1816.0,761.8" stroke="#1b2230" stroke-width="3.8" fill="none" />
<path d="M1816.0,737.6 L1592.2,860.5 Q1579.4,869.1 1585.4,879.3" stroke="#1b2230" stroke-width="3.8" fill="none" />
<path d="M1559.8,813.6 L1602.5,791.4 L1643.5,815.3 L1600.8,839.2 Z" stroke="#1b2230" stroke-width="4.4" fill="none" />
<path d="M1624.7,778.6 L1667.4,754.7 L1708.4,780.3 L1666.5,804.2 Z" stroke="#1b2230" stroke-width="4.4" fill="none" />
<path d="M1546.1,819.6 L1594.8,846.9 M1687.9,744.4 L1732.3,770.0 M1738.3,717.9 L1781.8,742.7" stroke="#1b2230" stroke-width="4.4" fill="none" />
<path d="M915.7,878.7 L1007.1,930.1 Q1030.9,941.9 1048.4,933.1 L1069.7,921.8" stroke="#eef26e" stroke-width="15" fill="none" style="stroke-linecap:butt"/>
<path d="M915.7,888.0 L1002.6,938.1 Q1030.9,951.9 1052.2,940.6 L1074.7,930.6" stroke="#1b2230" stroke-width="3.8" fill="none" />
<path d="M1062.2,913.5 Q1078.5,914.3 1078.0,928.1 Q1077.2,933.1 1072.2,932.1" stroke="#1b2230" stroke-width="4.5" fill="none" />
<path d="M1285.1,879.9 L1397.8,945.0 Q1413.3,953.5 1428.4,946.5 L1558.1,880.4" stroke="#eef26e" stroke-width="15" fill="none" style="stroke-linecap:butt"/>
<path d="M1280.6,887.9 L1393.3,953.0 Q1413.3,963.5 1432.1,955.0 L1562.4,888.4" stroke="#1b2230" stroke-width="3.8" fill="none" />
<path d="M1288.1,876.6 Q1276.8,879.1 1280.6,887.9" stroke="#1b2230" stroke-width="3.8" fill="none" />
<circle cx="1285.1" cy="880.4" r="7.3" stroke="#1b2230" stroke-width="0" fill="#eef26e"/>
<path d="M1288.1,876.6 Q1276.8,879.1 1280.6,887.9" stroke="#1b2230" stroke-width="3.8" fill="none" />
<path d="M1502.0,571.4 L1502.0,584.3 A56.5,31.1 0 0 0 1614.9,584.3 L1614.9,571.4 Z" stroke="none" fill="#eff0f4"/>
<path d="M1502.0,571.4 L1502.0,584.3 A56.5,31.1 0 0 0 1614.9,584.3 L1614.9,571.4" stroke="#1b2230" stroke-width="3.8" fill="none"/>
<ellipse cx="1558.5" cy="571.4" rx="56.5" ry="31.1" stroke="#1b2230" stroke-width="3.8" fill="#eff0f4"/>
<path d="M1519.6,535.8 L1519.6,571.0 A39.2,21.3 0 0 0 1598.1,571.0 L1598.1,535.8 Z" stroke="none" fill="#eff0f4"/>
<path d="M1519.6,535.8 L1519.6,571.0 A39.2,21.3 0 0 0 1598.1,571.0 L1598.1,535.8" stroke="#1b2230" stroke-width="3.8" fill="none"/>
<path d="M1519.6,535.8 A39.2,21.3 0 0 0 1598.1,535.8" stroke="#1b2230" stroke-width="3.8" fill="none"/>
<ellipse cx="1531.6" cy="507.1" rx="25.9" ry="27.2" stroke="#1b2230" stroke-width="3.8" fill="#eff0f4"/>
<ellipse cx="1539.0" cy="509.0" rx="25.5" ry="25.9" stroke="#1b2230" stroke-width="3.8" fill="#eff0f4"/>
<circle cx="1592.7" cy="399.8" r="24.1" stroke="#1b2230" stroke-width="3.8" fill="#eff0f4"/>
<path d="M1583.4,415.5 L1528.8,510.8" stroke="#1b2230" stroke-width="27.5" fill="none" />
<path d="M1583.4,415.5 L1528.8,510.8" stroke="#eff0f4" stroke-width="19.9" fill="none" />
<path d="M1593.6,376.7 L1679.7,421.1 Q1682.8,423.9 1680.6,430.3 L1675.4,441.8 Q1673.6,446.6 1669.5,445.7 L1606.6,422.0 Z" stroke="none" stroke-width="0" fill="#eff0f4" />
<path d="M1597.3,377.0 L1679.7,421.1 Q1682.8,423.9 1680.6,430.3 L1675.4,441.8 Q1673.6,446.6 1669.5,445.7 L1614.0,424.8" stroke="#1b2230" stroke-width="3.8" fill="none" />
<path d="M1680.6,432.2 L1711.1,445.1 Q1717.1,449.2 1712.1,454.8 Q1709.3,458.1 1705.6,456.2 L1677.3,443.3 Z" stroke="#1b2230" stroke-width="3.8" fill="#eff0f4" />
<path d="M1688.0,448.8 L1688.0,466.4 Q1688.9,470.1 1692.6,470.7 L1692.6,483.6 Q1697.6,487.7 1702.8,484.4 L1702.8,471.4 Q1706.5,470.7 1706.5,467.3 L1706.5,456.6" stroke="#1b2230" stroke-width="3.8" fill="#eff0f4" />
<path d="M1688.9,467.0 Q1697.6,471.0 1706.1,468.3" stroke="#1b2230" stroke-width="3.8" fill="none" />
<path d="M1697.6,488.1 L1697.6,500.7" stroke="#1b2230" stroke-width="5" fill="none" />
<path d="M1588.1,404.4 L1530.7,501.6" stroke="#1b2230" stroke-width="3.8" fill="none" />
<path d="M1606.6,415.9 L1553.3,522.9" stroke="#1b2230" stroke-width="27" fill="none" />
<path d="M1606.6,415.9 L1553.3,522.9" stroke="#eff0f4" stroke-width="19.4" fill="none" />
<ellipse cx="1605.3" cy="415.5" rx="6.5" ry="8.7" stroke="#1b2230" stroke-width="4.5" fill="none" transform="rotate(28 1605.3 415.5)"/>
<path d="M1536.2,548.4 Q1521.4,526.6 1536.2,508.1 Q1551.0,493.3 1573.3,507.1 L1597.3,534.9 Q1580.7,552.5 1558.5,554.3 Q1545.5,553.4 1536.2,548.4 Z" stroke="none" stroke-width="0" fill="#eff0f4" />
<path d="M1536.6,550.6 Q1521.4,526.6 1536.2,508.1 Q1551.0,493.3 1573.3,507.1 L1598.2,536.2" stroke="#1b2230" stroke-width="3.8" fill="none" />
<ellipse cx="1552.0" cy="525.6" rx="9.3" ry="12.0" stroke="#1b2230" stroke-width="4.5" fill="none" transform="rotate(28 1552.0 525.6)"/>
<path d="M1371.8,746.0 L1371.8,758.0 A45.2,23.1 0 0 0 1462.1,758.0 L1462.1,746.0 Z" stroke="none" fill="#eff0f4"/>
<path d="M1371.8,746.0 L1371.8,758.0 A45.2,23.1 0 0 0 1462.1,758.0 L1462.1,746.0" stroke="#1b2230" stroke-width="3.8" fill="none"/>
<ellipse cx="1416.9" cy="746.0" rx="45.2" ry="23.1" stroke="#1b2230" stroke-width="3.8" fill="#eff0f4"/>
<path d="M1422.3,742.3 L1422.3,671.0 Q1425.1,662.7 1433.4,662.7 Q1447.3,667.3 1450.1,689.6 L1450.1,742.3 Z" stroke="#1b2230" stroke-width="3.8" fill="#eff0f4" />
<path d="M1247.4,624.8 L1272.4,612.7 L1312.2,634.0 L1312.2,663.6 L1286.3,677.5 L1247.4,653.5 Z" stroke="#1b2230" stroke-width="3.8" fill="#eff0f4" />
<path d="M1247.4,624.8 L1286.3,647.0 L1312.2,634.0 M1286.3,647.0 L1286.3,677.5" stroke="#1b2230" stroke-width="3.8" fill="none" />
<path d="M1310.3,585.9 L1373.3,597.0 L1365.9,621.1 L1306.6,601.6 Z" stroke="none" stroke-width="0" fill="#eff0f4" />
<path d="M1310.3,585.9 L1369.6,596.1 M1306.6,601.6 L1363.6,619.6" stroke="#1b2230" stroke-width="3.8" fill="none" />
<path d="M1293.1,589.6 L1279.4,615.0" stroke="#1b2230" stroke-width="21" fill="none" />
<path d="M1293.1,589.6 L1279.4,615.0" stroke="#eff0f4" stroke-width="13.4" fill="none" />
<ellipse cx="1302.0" cy="591.1" rx="5.6" ry="10.4" stroke="#1b2230" stroke-width="3.8" fill="#eff0f4" transform="rotate(25 1302.0 591.1)"/>
<ellipse cx="1308.1" cy="593.3" rx="5.2" ry="9.3" stroke="#1b2230" stroke-width="3.8" fill="#eff0f4" transform="rotate(25 1308.1 593.3)"/>
<circle cx="1390.8" cy="599.8" r="15.2" stroke="#1b2230" stroke-width="3.8" fill="#eff0f4"/>
<path d="M1391.8,603.5 L1432.5,689.6" stroke="#1b2230" stroke-width="19" fill="none" />
<path d="M1391.8,603.5 L1432.5,689.6" stroke="#eff0f4" stroke-width="11.4" fill="none" />
<path d="M1372.9,610.0 L1413.1,700.7" stroke="#1b2230" stroke-width="20" fill="none" />
<path d="M1372.9,610.0 L1413.1,700.7" stroke="#eff0f4" stroke-width="12.4" fill="none" />
<ellipse cx="1372.9" cy="613.3" rx="3.7" ry="5.0" stroke="#1b2230" stroke-width="0" fill="#1b2230" transform="rotate(-15 1372.9 613.3)"/>
<path d="M1422.3,708.1 L1439.9,699.2 L1439.9,680.3" stroke="#1b2230" stroke-width="3.8" fill="none" />
<path d="M1383.4,741.4 L1383.4,689.6 Q1386.2,675.7 1397.3,675.7 Q1411.2,676.6 1415.8,693.3 L1418.6,708.1 L1418.6,729.4 L1450.1,714.5 L1450.1,742.3 Q1416.8,765.4 1383.4,741.4 Z" stroke="#1b2230" stroke-width="3.8" fill="#eff0f4" />
<path d="M1746.6,899.3 L1746.6,916.9 A62.9,36.1 0 0 0 1872.5,916.9 L1872.5,899.3 Z" stroke="none" fill="#eff0f4"/>
<path d="M1746.6,899.3 L1746.6,916.9 A62.9,36.1 0 0 0 1872.5,916.9 L1872.5,899.3" stroke="#1b2230" stroke-width="3.8" fill="none"/>
<ellipse cx="1809.6" cy="899.3" rx="62.9" ry="36.1" stroke="#1b2230" stroke-width="3.8" fill="#eff0f4"/>
<path d="M1764.2,892.8 L1764.2,826.9 L1783.6,806.6 L1834.5,812.1 L1854.0,859.5 L1854.0,894.7 A45.0 26.8 0 0 1 1764.2 892.8 Z" stroke="#1b2230" stroke-width="3.8" fill="#eff0f4" />
<path d="M1722.9,677.0 L1757.7,691.8" stroke="#1b2230" stroke-width="16.4" fill="none" style="stroke-linecap:butt"/>
<path d="M1722.9,677.0 L1757.7,691.8" stroke="#eff0f4" stroke-width="8.799999999999999" fill="none" style="stroke-linecap:butt"/>
<ellipse cx="1726.3" cy="660.0" rx="10.7" ry="12.2" stroke="#1b2230" stroke-width="3.8" fill="#eff0f4"/>
<ellipse cx="1720.3" cy="660.7" rx="10.7" ry="12.2" stroke="#1b2230" stroke-width="3.8" fill="#eff0f4"/>
<path d="M1705.9,702.0 L1707.8,719.6 L1710.5,722.7 L1711.5,731.6 L1720.7,731.6 L1721.6,722.7 L1723.9,720.0 L1725.3,702.9 Z" stroke="#1b2230" stroke-width="3.8" fill="#eff0f4" />
<path d="M1707.8,719.6 L1723.9,720.0 M1710.5,722.7 L1721.6,722.7" stroke="#1b2230" stroke-width="3.8" fill="none" />
<path d="M1715.5,732.5 L1715.5,749.2" stroke="#1b2230" stroke-width="5" fill="none" />
<path d="M1697.6,667.8 Q1697.6,657.6 1708.7,657.6 Q1718.9,657.6 1719.2,667.8 L1719.8,685.3 Q1728.1,689.6 1728.5,695.5 L1725.3,702.9 L1705.9,702.0 Q1697.6,697.4 1697.6,691.8 Z" stroke="#1b2230" stroke-width="3.8" fill="#eff0f4" />
<circle cx="1708.1" cy="672.9" r="2.8" stroke="#1b2230" stroke-width="0" fill="#1b2230"/>
<path d="M1731.8,706.6 L1742.9,700.2" stroke="#1b2230" stroke-width="4" fill="none" />
<circle cx="1862.3" cy="736.2" r="18.9" stroke="#1b2230" stroke-width="3.8" fill="#eff0f4"/>
<path d="M1862.3,758.5 L1817.9,854.7 L1817.9,862.1 L1838.2,852.8 L1835.1,839.0" stroke="#1b2230" stroke-width="3.8" fill="#eff0f4" />
<path d="M1760.0,689.6 L1847.5,728.8" stroke="#1b2230" stroke-width="25.6" fill="none" />
<path d="M1760.0,689.6 L1847.5,728.8" stroke="#eff0f4" stroke-width="18.0" fill="none" />
<path d="M1821.0,740.3 Q1826.2,726.6 1839.2,726.2 Q1854.9,728.8 1854.9,751.0 L1812.3,841.7 L1817.9,862.1 L1783.6,843.6 L1782.7,807.5 Z" stroke="#1b2230" stroke-width="3.8" fill="#eff0f4" />
<ellipse cx="1837.9" cy="745.5" rx="6.1" ry="8.3" stroke="#1b2230" stroke-width="4.5" fill="none" transform="rotate(-25 1837.9 745.5)"/>
<path d="M1764.2,892.8 L1764.2,826.9 Q1767.0,814.0 1778.1,813.2 Q1791.0,814.0 1798.5,828.0 L1813.6,886.3 L1767.0,860.4" stroke="#1b2230" stroke-width="3.8" fill="#eff0f4" />
<ellipse cx="1779.9" cy="837.7" rx="6.7" ry="9.3" stroke="#1b2230" stroke-width="4.5" fill="none" transform="rotate(-20 1779.9 837.7)"/>
<path d="M1764.2,892.8 A45.0 26.8 0 0 0 1854.0 894.7" stroke="#1b2230" stroke-width="3.8" fill="none" />
<path d="M2034.2,871.7 L2034.2,884.3 A45.9,25.0 0 0 0 2126.0,884.3 L2126.0,871.7 Z" stroke="none" fill="#eff0f4"/>
<path d="M2034.2,871.7 L2034.2,884.3 A45.9,25.0 0 0 0 2126.0,884.3 L2126.0,871.7" stroke="#1b2230" stroke-width="3.8" fill="none"/>
<ellipse cx="2080.1" cy="871.7" rx="45.9" ry="25.0" stroke="#1b2230" stroke-width="3.8" fill="#eff0f4"/>
<path d="M2046.4,868.0 L2046.4,816.2 Q2048.3,802.3 2059.4,797.3 L2097.3,799.2 Q2112.1,801.4 2114.0,816.2 L2114.0,869.9 A33.9 16.7 0 0 1 2046.4 868.0 Z" stroke="#1b2230" stroke-width="3.8" fill="#eff0f4" />
<path d="M2051.0,758.8 L2060.3,829.1 Q2062.2,835.6 2068.6,837.5 L2077.9,831.0 Q2080.7,812.5 2097.3,803.2 L2099.2,801.4 L2081.6,747.7 Z" stroke="#1b2230" stroke-width="3.8" fill="#eff0f4" />
<path d="M2069.0,836.9 Q2070.5,814.3 2088.1,801.0" stroke="#1b2230" stroke-width="3.8" fill="none" />
<path d="M2048.3,844.9 L2076.0,856.9 L2077.9,831.0" stroke="#1b2230" stroke-width="3.8" fill="none" />
<ellipse cx="2049.2" cy="721.4" rx="19.1" ry="22.2" stroke="#1b2230" stroke-width="3.8" fill="#eff0f4" transform="rotate(25 2049.2 721.4)"/>
<path d="M1977.9,767.1 L2029.8,728.3 L2058.5,760.7 L1999.2,785.6 Z" stroke="none" stroke-width="0" fill="#eff0f4" />
<path d="M1977.9,767.1 L2030.3,729.6 M1999.2,785.6 L2051.0,757.9" stroke="#1b2230" stroke-width="3.8" fill="none" />
<ellipse cx="2068.6" cy="735.7" rx="19.1" ry="22.6" stroke="#1b2230" stroke-width="3.8" fill="#eff0f4" transform="rotate(25 2068.6 735.7)"/>
<ellipse cx="2069.0" cy="735.7" rx="7.4" ry="9.6" stroke="#1b2230" stroke-width="5" fill="none" transform="rotate(28 2069.0 735.7)"/>
<circle cx="1968.1" cy="780.7" r="12.6" stroke="#1b2230" stroke-width="3.8" fill="#eff0f4"/>
<path d="M1960.4,792.1 L1963.1,812.5 L1965.9,819.9 L1983.5,819.9 L1986.3,812.5 L1987.2,798.6 L1977.0,786.6 Z" stroke="#1b2230" stroke-width="3.8" fill="#eff0f4" />
<path d="M1967.8,820.8 L1967.8,831.0 L1979.8,831.0 L1979.8,820.8" stroke="#1b2230" stroke-width="3.8" fill="none" />
<path d="M1974.2,833.8 L1974.2,849.5" stroke="#1b2230" stroke-width="5" fill="none" />
<path d="M1977.8,792.5 L1994.0,779.9" stroke="#1b2230" stroke-width="16" fill="none" />
<path d="M1977.8,792.5 L1994.0,779.9" stroke="#eff0f4" stroke-width="8" fill="none" />
<path d="M2703.7,1376.5 Q2709,1418.5 2751,1423.7 Q2709,1429 2703.7,1471 Q2698.5,1429 2656.5,1423.7 Q2698.5,1418.5 2703.7,1376.5 Z" fill="#f6f7fa" stroke="none"/>
</svg>
</body></html>
